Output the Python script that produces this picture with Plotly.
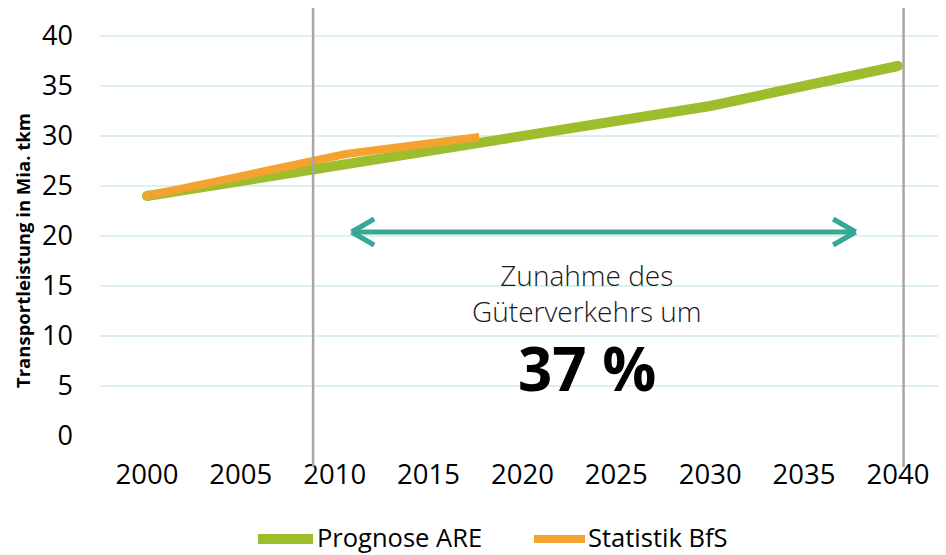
import plotly.graph_objects as go

# ---- data ----
prognose_years = [2000, 2010, 2020, 2030, 2040]
prognose_values = [24.0, 27.0, 30.0, 33.0, 37.0]

statistik_years = [2000, 2005, 2010, 2010.6, 2017.7]
statistik_values = [24.0, 25.9, 27.9, 28.2, 29.9]

x_ticks = [2000, 2005, 2010, 2015, 2020, 2025, 2030, 2035, 2040]
y_ticks = [0, 5, 10, 15, 20, 25, 30, 35, 40]

GREEN = "#9ebd2c"
ORANGE = "#f4a330"
TEAL = "#37a896"
GRAY = "#a6a6a6"
GRID = "#dcf1ee"

# The page body adds an 8px offset; plot area on screen: x 100..940, y 8..436
OFF = 8
fig = go.Figure()

fig.add_trace(go.Scatter(
    x=prognose_years, y=prognose_values, mode="lines",
    name="Prognose ARE", line=dict(color=GREEN, width=10),
))
fig.add_trace(go.Scatter(
    x=statistik_years, y=statistik_values, mode="lines",
    name="Statistik BfS", line=dict(color=ORANGE, width=8),
))
# round caps at line starts/ends
fig.add_trace(go.Scatter(
    x=[prognose_years[0], prognose_years[-1]], y=[prognose_values[0], prognose_values[-1]],
    mode="markers", marker=dict(color=GREEN, size=10), showlegend=False, hoverinfo="skip"))
fig.add_trace(go.Scatter(
    x=[statistik_years[0]], y=[statistik_values[0]],
    mode="markers", marker=dict(color=ORANGE, size=8), showlegend=False, hoverinfo="skip"))

# screen-pixel -> paper helpers
def px(X):
    return (X - 100) / 840.0

def py(Y):
    return (436 - Y) / 428.0

shapes = []
# vertical reference lines
for xv in [2008.85, 2040.3]:
    shapes.append(dict(type="line", xref="x", yref="paper", x0=xv, x1=xv,
                       y0=py(8), y1=py(467), line=dict(color=GRAY, width=2.5)))

# double arrow
ay = 20.4
xl, xr = 2010.9, 2037.75
shapes.append(dict(type="line", xref="x", yref="y", x0=xl + 0.1, x1=xr - 0.1, y0=ay, y1=ay,
                   line=dict(color=TEAL, width=5)))
for tip, d in [(xl, 1), (xr, -1)]:
    for dy in (1.3, -1.3):
        shapes.append(dict(type="line", xref="x", yref="y", x0=tip, x1=tip + d * 1.2,
                           y0=ay, y1=ay + dy, line=dict(color=TEAL, width=5)))

# legend (manual)
shapes.append(dict(type="line", xref="paper", yref="paper", x0=px(258), x1=px(313),
                   y0=py(539), y1=py(539), line=dict(color=GREEN, width=10)))
shapes.append(dict(type="line", xref="paper", yref="paper", x0=px(534), x1=px(585),
                   y0=py(539), y1=py(539), line=dict(color=ORANGE, width=8)))

annotations = [
    dict(text="Zunahme des<br>Güterverkehrs um", x=2023.43, y=py(293), xref="x", yref="paper",
         xanchor="center", yanchor="middle", showarrow=False,
         font=dict(family="Open Sans", size=28, color="#1a1a1a", weight=300)),
    dict(text="<b>37 %</b>", x=2023.43, y=py(368), xref="x", yref="paper",
         xanchor="center", yanchor="middle", showarrow=False,
         font=dict(family="Open Sans", size=60, color="#000000")),
    dict(text="<b>Transportleistung in Mia. tkm</b>", x=px(22), y=py(251),
         xref="paper", yref="paper", xanchor="center", yanchor="middle",
         showarrow=False, textangle=-90,
         font=dict(family="Open Sans", size=18.5, color="#000000")),
    dict(text="Prognose ARE", x=px(315), y=py(537), xref="paper", yref="paper",
         xanchor="left", yanchor="middle", showarrow=False,
         font=dict(family="Open Sans", size=25.5, color="#000000")),
    dict(text="Statistik BfS", x=px(586), y=py(537), xref="paper", yref="paper",
         xanchor="left", yanchor="middle", showarrow=False,
         font=dict(family="Open Sans", size=25.5, color="#000000")),
]

fig.update_layout(
    width=946, height=555,
    margin=dict(l=100 - OFF, r=946 - 940 + OFF, t=0, b=555 - 436 + OFF),
    paper_bgcolor="white", plot_bgcolor="white",
    showlegend=False,
    shapes=shapes, annotations=annotations,
    xaxis=dict(range=[1997.5, 2042.24], tickvals=x_ticks, ticktext=[str(v) for v in x_ticks],
               showgrid=False, zeroline=False, showline=False, ticks="",
               ticklabelstandoff=19,
               tickfont=dict(family="Open Sans", size=27.5, color="#000000")),
    yaxis=dict(range=[0, 42.8], tickvals=y_ticks, showgrid=True, gridcolor=GRID, gridwidth=2,
               zeroline=False, showline=False, ticks="", ticklabelstandoff=26,
               tickfont=dict(family="Open Sans", size=27, color="#000000")),
)

fig.write_html("out.html")
